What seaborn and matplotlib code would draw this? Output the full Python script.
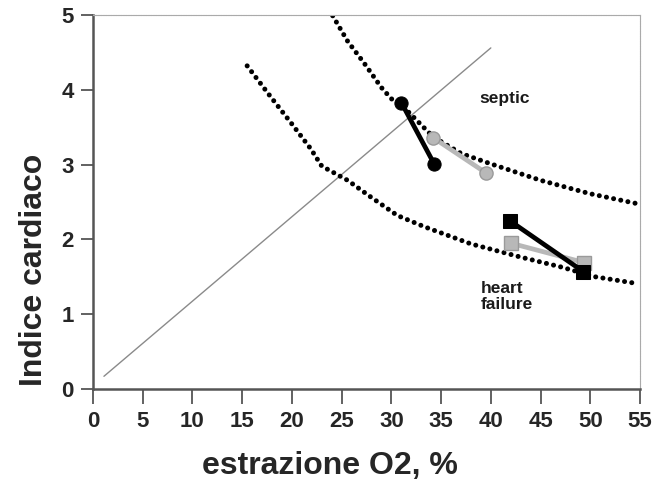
import matplotlib
matplotlib.use("Agg")
import matplotlib.pyplot as plt
import seaborn as sns
import pandas as pd

# ---- data ----
hf_x = [15.5, 17.9, 19.9, 21.9, 23.0, 25.6, 28.0, 30.6, 33.3, 38.0, 43.1, 47.1, 50.5, 54.7]
hf_y = [4.32, 3.90, 3.56, 3.21, 2.98, 2.79, 2.56, 2.32, 2.17, 1.94, 1.76, 1.63, 1.50, 1.41]

septic_x = [24.1, 25.6, 27.3, 29.0, 30.0, 31.0, 34.2, 37.0, 40.0, 45.0, 50.0, 55.0]
septic_y = [4.99, 4.65, 4.35, 4.03, 3.88, 3.80, 3.37, 3.15, 3.01, 2.79, 2.61, 2.47]

diag_x = [1.1, 40.0]
diag_y = [0.17, 4.56]

black_circle_x = [31.0, 34.3]
black_circle_y = [3.83, 3.01]
gray_circle_x = [34.2, 39.5]
gray_circle_y = [3.36, 2.89]
black_square_x = [41.9, 49.3]
black_square_y = [2.25, 1.57]
gray_square_x = [42.0, 49.4]
gray_square_y = [1.95, 1.69]

x_ticks = [0, 5, 10, 15, 20, 25, 30, 35, 40, 45, 50, 55]
y_ticks = [0, 1, 2, 3, 4, 5]

sns.set_style("white")
plt.rcParams['font.family'] = ['Liberation Sans', 'DejaVu Sans']

fig = plt.figure(figsize=(6.69, 4.9), dpi=100)
ax = fig.add_axes([93/669, 1-389/490, (640-93)/669, (389-15)/490])

# diagonal reference line
sns.lineplot(x=diag_x, y=diag_y, ax=ax, color="#8a8a8a", linewidth=1.0, sort=False)

# dotted iso-curves (round dots)
dot_style = (0, (0.01, 1.45))
for cx, cy in [(hf_x, hf_y), (septic_x, septic_y)]:
    sns.lineplot(x=cx, y=cy, ax=ax, color="black", linewidth=3.6, linestyle=dot_style,
                 sort=False, dash_capstyle="round")

# patient trajectories
sns.lineplot(x=gray_circle_x, y=gray_circle_y, ax=ax, color="#b8b8b8", linewidth=3.4, sort=False,
             marker="o", markersize=9.5, markerfacecolor="#b8b8b8", markeredgecolor="#9a9a9a", markeredgewidth=1)
sns.lineplot(x=black_circle_x, y=black_circle_y, ax=ax, color="black", linewidth=3.4, sort=False,
             marker="o", markersize=9.5, markerfacecolor="black", markeredgecolor="black")
sns.lineplot(x=gray_square_x, y=gray_square_y, ax=ax, color="#b8b8b8", linewidth=3.4, sort=False,
             marker="s", markersize=10, markerfacecolor="#b8b8b8", markeredgecolor="#9a9a9a", markeredgewidth=1)
sns.lineplot(x=black_square_x, y=black_square_y, ax=ax, color="black", linewidth=3.4, sort=False,
             marker="s", markersize=10, markerfacecolor="black", markeredgecolor="black")

ax.text(41.4, 3.88, "septic", ha="center", va="center", fontsize=12.5, color="#1a1a1a", fontweight="bold")
ax.text(39.0, 1.24, "heart\nfailure", ha="left", va="center", fontsize=12.5, color="#1a1a1a",
        fontweight="bold", linespacing=1.05)

ax.set_xlim(0, 55)
ax.set_ylim(0, 5)
ax.set_xticks(x_ticks)
ax.set_yticks(y_ticks)
ax.set_xticklabels([str(t) for t in x_ticks], fontsize=16, fontweight="bold")
ax.set_yticklabels([str(t) for t in y_ticks], fontsize=16, fontweight="bold")
ax.tick_params(axis="x", direction="out", length=11, width=1.3, color="#555555", pad=5, bottom=True)
ax.tick_params(axis="y", direction="out", length=9, width=1.3, color="#555555", pad=5, left=True)

for s in ["left", "bottom"]:
    ax.spines[s].set_color("#555555")
    ax.spines[s].set_linewidth(1.8)
for s in ["top", "right"]:
    ax.spines[s].set_color("#aaaaaa")
    ax.spines[s].set_linewidth(0.8)
    ax.spines[s].set_linestyle((0, (1, 0.5)))

ax.set_xlabel("estrazione O2, %", fontsize=23, fontweight="bold")
ax.set_ylabel("Indice cardiaco", fontsize=23, fontweight="bold")
ax.xaxis.set_label_coords((330 - 93) / 547, (389 - 451) / 374)
ax.yaxis.set_label_coords((49 - 93) / 547, (389 - 270) / 374)

fig.savefig("out.png", dpi=100)
